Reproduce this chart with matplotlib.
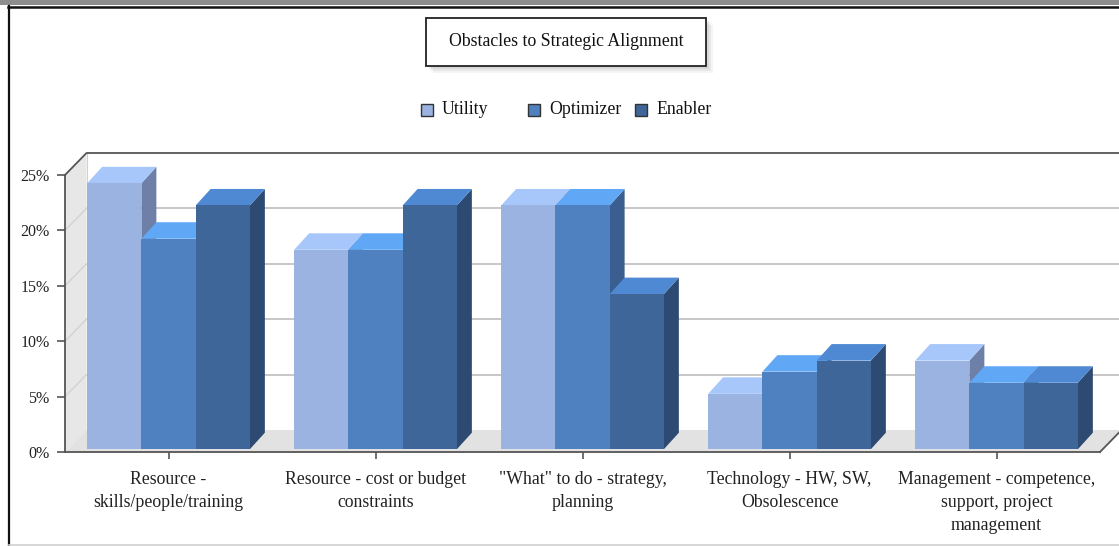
import numpy as np
import matplotlib as mpl; mpl.use('Agg')
import matplotlib.pyplot as plt
from matplotlib.patches import Rectangle, Polygon
from matplotlib.ticker import FuncFormatter

plt.rcParams['font.family'] = ['Liberation Serif', 'DejaVu Serif']

categories = ['Resource -\nskills/people/training', 'Resource - cost or budget\nconstraints',
              '"What" to do - strategy,\nplanning', 'Technology - HW, SW,\nObsolescence',
              'Management - competence,\nsupport, project\nmanagement']
series = ['Utility', 'Optimizer', 'Enabler']
utility = [24, 18, 22, 5, 8]
optimizer = [19, 18, 22, 7, 6]
enabler = [22, 22, 14, 8, 6]
yticks = [0, 5, 10, 15, 20, 25]

# front / top / side shades for each series
shades = {'Utility': ('#9BB3E1', '#A7C7FB', '#6E80A8'),
          'Optimizer': ('#4F80BF', '#60A8F6', '#3B5E90'),
          'Enabler': ('#3E6699', '#4F88D3', '#2C4A72')}

W, H = 1119, 546
fig = plt.figure(figsize=(W/100, H/100), dpi=100)
fig.patch.set_facecolor('white')
def fx(x): return x/W
def fy(y): return 1 - y/H

ax = fig.add_axes([fx(65), fy(452), 1035/W, 277/H])
ax.set_xlim(-0.5, 4.5); ax.set_ylim(0, 25)
ax.patch.set_alpha(0)

# wall depth and bar depth in data units
WX, WY = 21.5/207, 22/11.08
BX, BY = 15/207, 16.5/11.08
Z0 = 0.25

# back wall, side wall, floor
ax.add_patch(Rectangle((-0.5+WX, WY), 5, 25, fc='white', ec='none', zorder=0, clip_on=False))
ax.add_patch(Polygon([(-0.5, 0), (-0.5, 25), (-0.5+WX, 25+WY), (-0.5+WX, WY)],
                     fc='#E7E7E7', ec='none', zorder=1, clip_on=False))
ax.add_patch(Polygon([(-0.5, 0), (4.5, 0), (4.5+WX, WY), (-0.5+WX, WY)],
                     fc='#E2E2E2', ec='none', zorder=1, clip_on=False))
for g in yticks[1:-1]:
    ax.plot([-0.5+WX, 4.5+WX], [g+WY, g+WY], color='#BDBDBD', lw=1.2, zorder=0.5, clip_on=False)
    ax.plot([-0.5, -0.5+WX], [g, g+WY], color='#D2D2D2', lw=1.0, zorder=1.5, clip_on=False)
ax.plot([-0.5+WX, -0.5+WX], [WY, 25+WY], color='#D0D0D0', lw=0.8, zorder=1.5, clip_on=False)
ax.plot([-0.5, -0.5+WX, 4.5+WX], [25, 25+WY, 25+WY], color='#555555', lw=1.3, zorder=4, clip_on=False)
ax.plot([4.5, 4.5+WX], [0, WY], color='#555555', lw=1.3, zorder=4, clip_on=False)

def bar3d(x0, w, h, cols, z):
    front, top, side = cols
    y0 = Z0
    ax.add_patch(Polygon([(x0+w, y0), (x0+w+BX, y0+BY), (x0+w+BX, y0+h+BY), (x0+w, y0+h)],
                         fc=side, ec='none', zorder=z, clip_on=False))
    ax.add_patch(Polygon([(x0, y0+h), (x0+w, y0+h), (x0+w+BX, y0+h+BY), (x0+BX, y0+h+BY)],
                         fc=top, ec='none', zorder=z+0.01, clip_on=False))
    ax.add_patch(Rectangle((x0, y0), w, h, fc=front, ec='none', zorder=z+0.02, clip_on=False))

bw = 0.262
x = np.arange(len(categories))
z = 3
for i in x:
    for j, (name, vals) in enumerate(zip(series, [utility, optimizer, enabler])):
        bar3d(i + (j-1.5)*bw, bw, vals[i], shades[name], z)
        z += 0.1

# axes, ticks and labels
for s in ['top', 'right']:
    ax.spines[s].set_visible(False)
for s in ['left', 'bottom']:
    ax.spines[s].set_color('#555555'); ax.spines[s].set_linewidth(1.3); ax.spines[s].set_zorder(5)
ax.set_yticks(yticks)
ax.yaxis.set_major_formatter(FuncFormatter(lambda v, p: f'{v:.0f}%'))
ax.set_xticks(x)
ax.set_xticklabels(categories)
ax.tick_params(axis='y', length=6, width=1.2, color='#555555', pad=5, labelsize=11.5, labelcolor='#222222')
ax.tick_params(axis='x', length=5, width=1.2, color='#555555', pad=9, labelsize=12.8, labelcolor='#222222')
for lbl in ax.get_xticklabels():
    lbl.set_linespacing(1.45)

# title box with soft shadow
for k, a in enumerate([0.10, 0.14, 0.20]):
    d = 7 - 2*k
    fig.add_artist(Rectangle((fx(426+d), fy(66+d)), 280/W, 48/H, transform=fig.transFigure,
                             fc='#9A9A9A', ec='none', alpha=a))
fig.add_artist(Rectangle((fx(426), fy(66)), 280/W, 48/H, transform=fig.transFigure,
                         fc='white', ec='#222222', lw=1.3))
fig.text(fx(566), fy(42), 'Obstacles to Strategic Alignment', ha='center', va='center',
         fontsize=12.8, color='#111111')

# legend
for k, name in enumerate(series):
    lx = 421 + 107*k
    fig.add_artist(Rectangle((fx(lx), fy(116)), 12/W, 12/H, transform=fig.transFigure,
                             fc=shades[name][0], ec='#333333', lw=1.0))
    fig.text(fx(lx+21), fy(110), name, ha='left', va='center', fontsize=12.8, color='#111111')

# outer frame
fig.add_artist(Rectangle((0, fy(5)), 1, 5/H, transform=fig.transFigure, fc='#8E8E8E', ec='none'))
fig.add_artist(plt.Line2D([fx(8), 1], [fy(6.5), fy(6.5)], transform=fig.transFigure, color='#111111', lw=1.8))
fig.add_artist(plt.Line2D([fx(9), fx(9)], [fy(6), 0], transform=fig.transFigure, color='#111111', lw=1.6))
fig.add_artist(plt.Line2D([fx(9), 1], [fy(544.5), fy(544.5)], transform=fig.transFigure, color='#CFCFCF', lw=1.2))

fig.savefig('out.png', dpi=100)
